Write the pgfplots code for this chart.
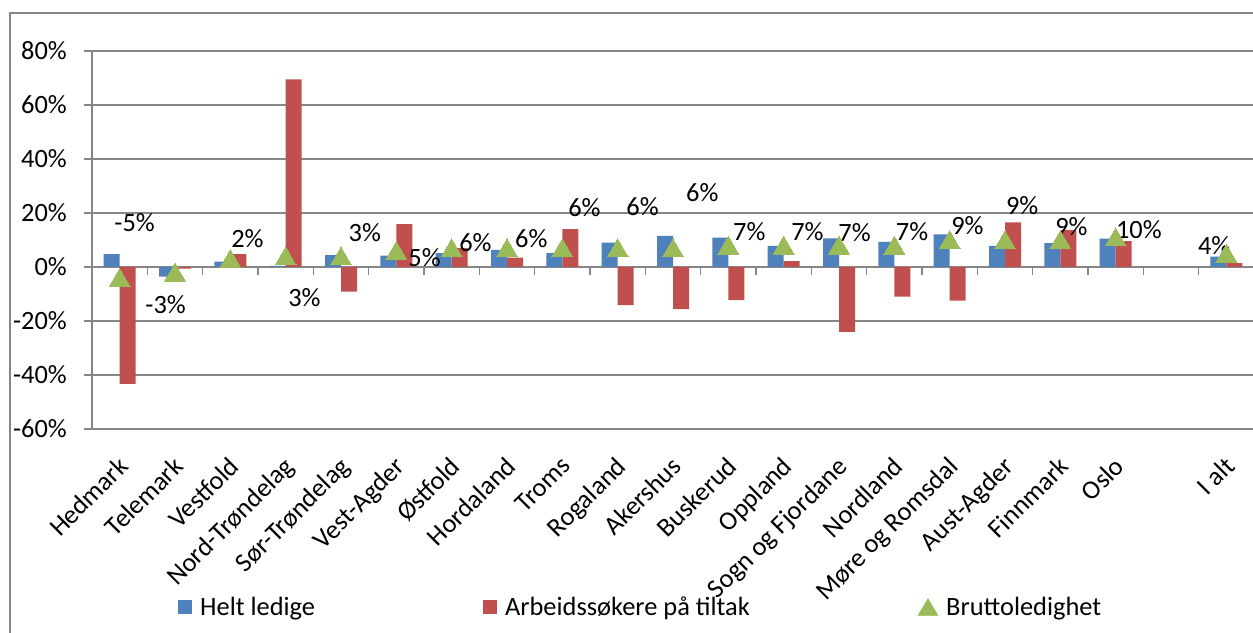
\documentclass[border=0pt]{standalone}
\usepackage{pgfplots}
\usepackage{pgfplotstable}
\pgfplotsset{compat=1.18}
\usepackage{fontspec}
\setmainfont{Carlito}
\definecolor{cblue}{HTML}{4F81BD}
\definecolor{cred}{HTML}{C0504D}
\definecolor{cgreen}{HTML}{9BBB59}
\definecolor{cgrid}{HTML}{868686}
\newcommand{\bigf}{\fontsize{26.5}{31}\selectfont}

\pgfplotstableread{
x blue red green
0 4.8 -43.3 -5
1 -3.6 -0.6 -3
2 2.0 4.8 2
3 0.4 69.5 3
4 4.4 -9.1 3
5 4.2 15.9 5
6 5.1 7.0 6
7 6.3 3.5 6
8 5.1 14.0 6
9 9.0 -14.1 6
10 11.5 -15.6 6
11 10.9 -12.3 7
12 7.8 2.2 7
13 10.6 -24.0 7
14 9.3 -11.0 7
15 12.1 -12.5 9
16 7.8 16.5 9
17 8.8 13.7 9
18 10.5 9.6 10
20 3.8 1.4 4
}\data

\begin{document}
\begin{tikzpicture}
\useasboundingbox (0bp,0bp) rectangle (1253bp,633bp);
\clip (0bp,0bp) rectangle (1253bp,633bp);
\fill[white] (0bp,0bp) rectangle (1253bp,633bp);
\draw[cgrid, line width=1.5bp] (10bp,620bp) rectangle (1300bp,-50bp);
\begin{axis}[
  at={(92bp,204bp)}, anchor=south west,
  scale only axis, width=1162bp, height=378bp,
  xmin=-0.5, xmax=20.5, ymin=-60, ymax=80,
  separate axis lines,
  axis x line*=bottom, axis y line*=left,
  x axis line style={draw=none},
  y axis line style={cgrid, line width=1.5bp},
  xtick={0,...,20},
  xticklabels={Hedmark,Telemark,Vestfold,Nord-Trøndelag,Sør-Trøndelag,Vest-Agder,Østfold,Hordaland,Troms,Rogaland,Akershus,Buskerud,Oppland,Sogn og Fjordane,Nordland,Møre og Romsdal,Aust-Agder,Finnmark,Oslo,{},I alt},
  xtick style={draw=none},
  ytick={-60,-40,-20,0,20,40,60,80},
  yticklabels={-60\%,-40\%,-20\%,0\%,20\%,40\%,60\%,80\%},
  ytick style={cgrid, line width=1.5bp},
  tick align=outside, major tick length=8bp,
  ymajorgrids, grid style={cgrid, line width=1.5bp},
  ticklabel style={font=\bigf},
  xticklabel style={xshift=-3bp, yshift=-18bp, rotate=45, anchor=north east, inner sep=0pt},
  yticklabel style={anchor=east, inner sep=0pt},
  yticklabel shift=17bp,
  legend style={at={(axis description cs:0.074,-0.471)}, anchor=west, draw=none, fill=none,
    font=\bigf, legend columns=3, inner sep=0pt,
    /tikz/every odd column/.append style={column sep=6bp},
    /tikz/every even column/.append style={column sep=166bp}},
  legend cell align=left,
]
\addplot[ybar, bar width=16bp, bar shift=-8bp, fill=cblue, draw=none,
  legend image code/.code={\fill[cblue] (0bp,-7bp) rectangle (14bp,7bp);}]
  table[x=x, y=blue] {\data};
\addlegendentry{Helt ledige}
\addplot[ybar, bar width=16bp, bar shift=8bp, fill=cred, draw=none,
  legend image code/.code={\fill[cred] (0bp,-7bp) rectangle (14bp,7bp);}]
  table[x=x, y=red] {\data};
\addlegendentry{Arbeidssøkere på tiltak}
\addplot[only marks, color=cgreen, mark=triangle*, mark size=12bp, mark options={fill=cgreen, draw=cgreen, line width=0pt},
  legend image code/.code={\fill[cgreen] (0bp,-8.5bp) -- (10bp,8.5bp) -- (20bp,-8.5bp) -- cycle;}]
  table[x=x, y=green] {\data};
\addlegendentry{Bruttoledighet}
\pgfplotsinvokeforeach{0.5,1.5,...,19.5}{\draw[cgrid, line width=1.5bp] (axis cs:#1,0) -- ++(0bp,-8bp);}
\begin{scope}[every node/.style={font=\bigf, inner sep=0pt}]
\node at (axis cs:0.27,16.3) {-5\%};
\node at (axis cs:0.83,-14.1) {-3\%};
\node at (axis cs:2.31,10.7) {2\%};
\node at (axis cs:3.34,-11.5) {3\%};
\node at (axis cs:4.43,12.6) {3\%};
\node at (axis cs:5.51,3.3) {5\%};
\node at (axis cs:6.43,8.9) {6\%};
\node at (axis cs:7.44,10.7) {6\%};
\node at (axis cs:8.40,21.9) {6\%};
\node at (axis cs:9.45,22.2) {6\%};
\node at (axis cs:10.53,27.4) {6\%};
\node at (axis cs:11.38,13.0) {7\%};
\node at (axis cs:12.43,13.0) {7\%};
\node at (axis cs:13.28,12.6) {7\%};
\node at (axis cs:14.32,13.0) {7\%};
\node at (axis cs:15.32,15.5) {9\%};
\node at (axis cs:16.31,22.9) {9\%};
\node at (axis cs:17.20,14.8) {9\%};
\node at (axis cs:18.42,13.7) {10\%};
\node at (axis cs:19.78,8.1) {4\%};
\end{scope}
\end{axis}
\end{tikzpicture}
\end{document}
